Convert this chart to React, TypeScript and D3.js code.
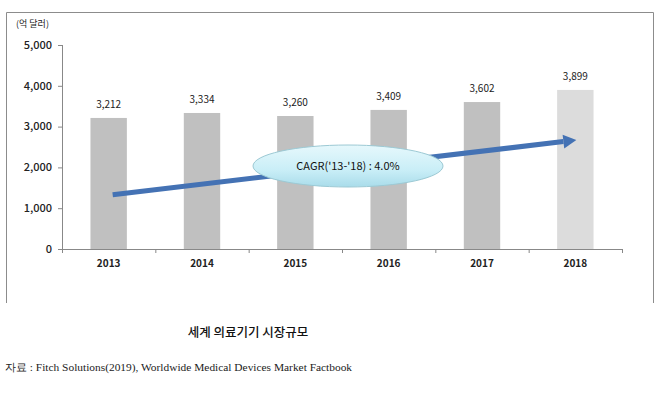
import React from 'react';
import * as d3 from 'd3';

// Chart data
const years = ['2013', '2014', '2015', '2016', '2017', '2018'];
const marketSize = [3212, 3334, 3260, 3409, 3602, 3899];
const yTicks = [0, 1000, 2000, 3000, 4000, 5000];
// trend arrow endpoints (in data units)
const trendStart = 1330;
const trendEnd = 2670;
const cagrLabel = "CAGR('13-'18) : 4.0%";
const unitLabel = '(억 달러)';
const title = '세계 의료기기 시장규모';
const source = '자료 : Fitch Solutions(2019), Worldwide Medical Devices Market Factbook';

const W = 660;
const H = 397;
const margin = { left: 62, right: 38, top: 45, bottom: 148 };
const sansFont = "'Noto Sans CJK KR', 'Noto Sans', sans-serif";

export default function App() {
  const x = d3.scaleBand<string>()
    .domain(years)
    .range([margin.left, W - margin.right])
    .paddingInner(0.61)
    .paddingOuter(0.305);

  const y = d3.scaleLinear()
    .domain([0, 5000])
    .range([H - margin.bottom, margin.top]);

  const y0 = y(0);
  const xStart = x(years[0])! + x.bandwidth() / 2;
  const xEnd = x(years[years.length - 1])! + x.bandwidth() / 2;
  const step = x.step();
  const axisLeft = margin.left;
  const axisRight = W - margin.right;

  // arrow geometry
  const ax1 = xStart + 4, ay1 = y(trendStart);
  const ax2 = xEnd + 1, ay2 = y(trendEnd);
  const ang = Math.atan2(ay2 - ay1, ax2 - ax1);
  const headLen = 13;
  const bx = ax2 - headLen * Math.cos(ang);
  const by = ay2 - headLen * Math.sin(ang);
  const nx = -Math.sin(ang), ny = Math.cos(ang);
  const head = `M${ax2},${ay2} L${bx + nx * 7},${by + ny * 7} L${bx - nx * 7},${by - ny * 7} Z`;

  return (
    <svg width={W} height={H} style={{ position: 'absolute', left: 0, top: 0, background: '#fff' }}>
      <defs>
        <linearGradient id="ell" x1="0" y1="0" x2="0" y2="1">
          <stop offset="0%" stopColor="#e6f8fc" />
          <stop offset="60%" stopColor="#c9eef7" />
          <stop offset="100%" stopColor="#a9dcea" />
        </linearGradient>
      </defs>
      {/* frame */}
      <path d="M6.5,303 V12.5 H653.5 V303" fill="none" stroke="#8c8c8c" strokeWidth={1} />

      <text x={16} y={27} fontFamily={sansFont} fontSize={9} fill="#222">{unitLabel}</text>

      {/* y axis */}
      <line x1={axisLeft + 0.5} x2={axisLeft + 0.5} y1={y(5000)} y2={y0} stroke="#888" />
      {yTicks.map(t => (
        <g key={t}>
          <line x1={axisLeft - 4} x2={axisLeft} y1={y(t) + 0.5} y2={y(t) + 0.5} stroke="#888" />
          <text x={axisLeft - 10} y={y(t)} dy="0.35em" textAnchor="end" fontFamily={sansFont}
            fontSize={11} fontWeight={500} fill="#222">{d3.format(',')(t)}</text>
        </g>
      ))}

      {/* bars */}
      {years.map((yr, i) => (
        <g key={yr}>
          <rect x={x(yr)} y={y(marketSize[i])} width={x.bandwidth()} height={y0 - y(marketSize[i])}
            fill={i === years.length - 1 ? '#dcdcdc' : '#c0c0c0'} />
          <text x={x(yr)! + x.bandwidth() / 2} y={y(marketSize[i]) - 10} textAnchor="middle"
            fontFamily={sansFont} fontSize={10} fill="#222">{d3.format(',')(marketSize[i])}</text>
          <text x={x(yr)! + x.bandwidth() / 2} y={y0 + 18} textAnchor="middle"
            fontFamily={sansFont} fontSize={10} fontWeight={700} fill="#222">{yr}</text>
        </g>
      ))}

      {/* x axis */}
      <line x1={axisLeft} x2={axisRight} y1={y0 + 0.5} y2={y0 + 0.5} stroke="#888" />
      {d3.range(years.length + 1).map(i => (
        <line key={i} x1={axisLeft + i * step + 0.5} x2={axisLeft + i * step + 0.5} y1={y0} y2={y0 + 4} stroke="#888" />
      ))}

      {/* trend arrow */}
      <line x1={ax1} y1={ay1} x2={bx} y2={by} stroke="#4472b4" strokeWidth={5} />
      <path d={head} fill="#4472b4" />

      {/* CAGR bubble */}
      <ellipse cx={348} cy={166} rx={95} ry={21} fill="url(#ell)" stroke="#9cc9d4" strokeWidth={1} />
      <text x={348} y={166} dy="0.35em" textAnchor="middle" fontFamily={sansFont} fontSize={11} fill="#111">{cagrLabel}</text>

      <text x={248} y={333} dy="0.35em" textAnchor="middle" fontFamily={sansFont} fontSize={12.5} fontWeight={500} fill="#111">{title}</text>
      <text x={5} y={367} dy="0.35em" fontFamily="'Liberation Serif', 'DejaVu Serif', serif" fontSize={11.4} fill="#222">{source}</text>
    </svg>
  );
}
